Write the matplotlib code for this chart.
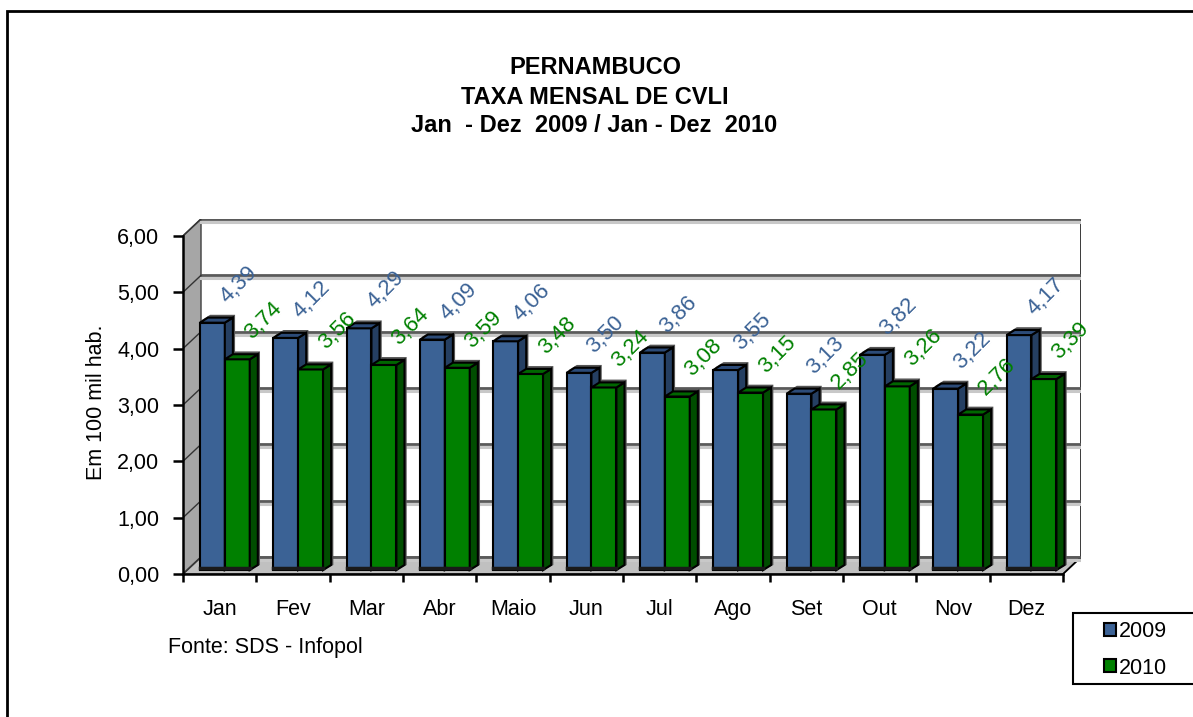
import matplotlib.pyplot as plt
from matplotlib.patches import Polygon, Rectangle

plt.rcParams['font.family'] = ['Liberation Sans', 'DejaVu Sans']

# data
months = ['Jan', 'Fev', 'Mar', 'Abr', 'Maio', 'Jun', 'Jul', 'Ago', 'Set', 'Out', 'Nov', 'Dez']
taxa_2009 = [4.39, 4.12, 4.29, 4.09, 4.06, 3.50, 3.86, 3.55, 3.13, 3.82, 3.22, 4.17]
taxa_2010 = [3.74, 3.56, 3.64, 3.59, 3.48, 3.24, 3.08, 3.15, 2.85, 3.26, 2.76, 3.39]
series = ['2009', '2010']
yticks = [0, 1, 2, 3, 4, 5, 6]

# colours (front, side, top)
blue = ('#3B6295', '#253F62', '#2C4B78')
green = ('#008000', '#004D00', '#006600')

W, H = 1193, 717
fig = plt.figure(figsize=(W / 100, H / 100), dpi=100)

# pseudo 3D depth of walls, in data units
DX, DY = 0.245, 0.30
OX, OY = 0.07, 0.07       # bar offset into depth
BDX, BDY = 0.11, 0.09     # bar depth
BW = 0.34

ax = fig.add_axes([183 / W, (H - 574) / H, 898 / W, (574 - 219) / H])
ax.set_xlim(0, 12 + DX)
ax.set_ylim(0, 6 + DY)
ax.patch.set_visible(False)

# back wall, left wall, floor
ax.add_patch(Polygon([(DX, DY), (12 + DX, DY), (12 + DX, 6 + DY), (DX, 6 + DY)],
                     closed=True, facecolor='white', edgecolor='none', zorder=0))
ax.add_patch(Polygon([(0, 0), (DX, DY), (DX, 6 + DY), (0, 6)], closed=True,
                     facecolor='#A6A6A6', edgecolor='#555555', lw=1.2, zorder=1))
ax.add_patch(Polygon([(0, 0), (12, 0), (12 + DX, DY), (DX, DY)], closed=True,
                     facecolor='#C0C0C0', edgecolor='#555555', lw=1.2, zorder=1))
ax.plot([12 + DX, 12 + DX], [DY, 6 + DY], color='black', lw=1.8, zorder=1)
ax.plot([12, 12 + DX], [0, DY], color='black', lw=1.2, zorder=1)
for k in yticks:
    ax.plot([DX, 12 + DX], [k + DY - 0.05, k + DY - 0.05], color='#C8C8C8', lw=2.2, zorder=1)
    ax.plot([DX, 12 + DX], [k + DY, k + DY], color='#5A5A5A', lw=2.0, zorder=1)
    ax.plot([0, DX], [k, k + DY], color='#333333', lw=1.0, zorder=1)


def bar3d(x0, v, cols, label):
    x1 = x0 + BW
    top = OY + v
    # shadow
    ax.add_patch(Polygon([(x0 + 0.03, top + 0.05), (x0 + BDX + 0.03, top + BDY + 0.05),
                          (x1 + BDX + 0.03, top + BDY + 0.05), (x1 + BDX + 0.03, OY + BDY),
                          (x1, OY)], closed=True, facecolor='#555555', edgecolor='none', zorder=2))
    b = ax.bar(x0, v, bottom=OY, width=BW, align='edge', color=cols[0],
               edgecolor='black', lw=1.5, zorder=3, label=label)
    ax.add_patch(Polygon([(x1, OY), (x1 + BDX, OY + BDY), (x1 + BDX, top + BDY), (x1, top)],
                         closed=True, facecolor=cols[1], edgecolor='black', lw=1.5, zorder=3))
    ax.add_patch(Polygon([(x0, top), (x0 + BDX, top + BDY), (x1 + BDX, top + BDY), (x1, top)],
                         closed=True, facecolor=cols[2], edgecolor='black', lw=1.5, zorder=3))
    ax.plot([x0, x1], [OY + 0.03, OY + 0.03], color='#1a1a1a', lw=2.5, zorder=4)
    ax.text(x0 + BW / 2 + 0.36, top + 0.68, f'{v:.2f}'.replace('.', ','),
            rotation=45, rotation_mode='anchor', ha='center', va='center',
            fontsize=16, color=cols[0], zorder=5)
    return b


handles = []
for i in range(len(months)):
    gc = i + 0.5 + OX
    hb = bar3d(gc - BW, taxa_2009[i], blue, series[0])
    hg = bar3d(gc, taxa_2010[i], green, series[1])
    if i == 0:
        handles = [hb, hg]

# axes lines / ticks
for s in ['top', 'right']:
    ax.spines[s].set_visible(False)
ax.spines['left'].set_bounds(0, 6)
ax.spines['bottom'].set_bounds(0, 12)
ax.spines['left'].set_linewidth(1.8)
ax.spines['bottom'].set_linewidth(1.8)
ax.spines['left'].set_zorder(6)
ax.spines['bottom'].set_zorder(6)
ax.set_yticks(yticks)
ax.set_yticklabels([f'{t:.2f}'.replace('.', ',') for t in yticks], fontsize=15.5)
ax.tick_params(axis='y', length=7, width=1.8, pad=10)
ax.set_xticks(range(13))
ax.set_xticklabels([])
ax.tick_params(axis='x', which='major', length=6, width=1.8, direction='out')
ax.set_xticks([i + 0.5 for i in range(12)], minor=True)
ax.set_xticklabels(months, minor=True, fontsize=15.5)
ax.tick_params(axis='x', which='minor', length=0, pad=18)

# text
fig.text(595 / W, 1 - 68 / H, 'PERNAMBUCO', ha='center', va='center', fontsize=17, fontweight='bold')
fig.text(595 / W, 1 - 97 / H, 'TAXA MENSAL DE CVLI', ha='center', va='center', fontsize=17, fontweight='bold')
fig.text(594 / W, 1 - 125 / H, 'Jan  - Dez  2009 / Jan - Dez  2010', ha='center', va='center',
         fontsize=17, fontweight='bold')
fig.text(97 / W, 1 - 402 / H, 'Em 100 mil hab.', rotation=90, ha='center', va='center', fontsize=15.5)
fig.text(168 / W, 1 - 647 / H, 'Fonte: SDS - Infopol', ha='left', va='center', fontsize=15.5)

# legend
fig.patches.append(Rectangle((1073 / W, 1 - 684 / H), 0.2, 71 / H, transform=fig.transFigure,
                             facecolor='white', edgecolor='black', lw=1.5, zorder=0))
fig.legend(handles=handles, labels=series, loc='center left',
           bbox_to_anchor=(1104 / W, 1 - 650 / H), frameon=False, fontsize=15.5,
           borderpad=0, borderaxespad=0, handlelength=0.55, handleheight=0.55,
           handletextpad=0.15, labelspacing=0.7)

# outer frame
fig.patches.append(Rectangle((7 / W, -0.05), 1.1, 1 - 11 / H + 0.05, transform=fig.transFigure,
                             facecolor='none', edgecolor='black', lw=2))

fig.savefig('out.png', dpi=100)
